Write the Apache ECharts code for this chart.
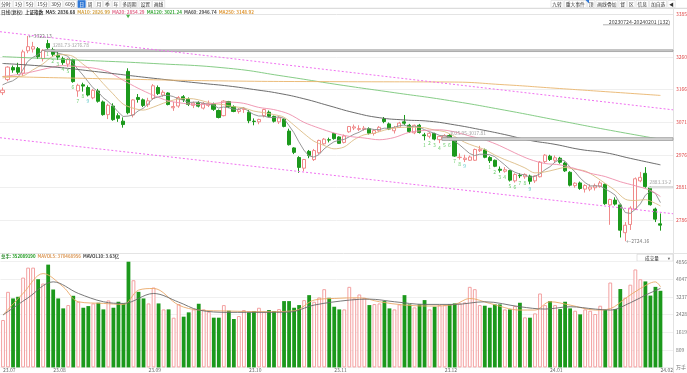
<!DOCTYPE html>
<html><head><meta charset="utf-8">
<script src="https://cdn.jsdelivr.net/npm/echarts@6/dist/echarts.min.js"></script>
<style>html,body{margin:0;padding:0;background:#fff;overflow:hidden}#c{width:687px;height:373px}</style>
</head><body><div id="c"></div>
<script>
// ---------------- data ----------------
const openP = [3157,3195,3230,3230,3214,3279,3284,3285,3256,3300,
3282,3266,3256,3240,3253,3162,3180,3172,3142,3162,
3130,3093,3118,3090,3074,3219,3092,3143,3136,3122,
3140,3172,3150,3156,3113,3118,3145,3138,3120,3128,
3112,3120,3124,3105,3090,3131,3116,3102,3108,3100,
3074,3072,3090,3100,3088,3072,3080,3045,2996,2968,
2937,2986,2962,2982,3008,3020,3038,3028,3012,3043,
3054,3050,3050,3052,3038,3046,3080,3066,3046,3056,
3072,3062,3040,3062,3034,3030,3038,3020,3026,3032,
3018,2968,2962,2960,2960,2988,2990,2968,2960,2934,
2928,2930,2900,2916,2912,2914,2900,2912,2956,2972,
2960,2966,2952,2925,2886,2894,2876,2876,2880,2884,
2890,2830,2844,2830,2749,2773,2818,2900,2922,2880,
2818,2775];
const highP = [3172,3234,3236,3244,3282,3322.13,3305,3290,3284,3311,
3288,3276,3262,3258,3256,3183,3186,3178,3168,3168,
3134,3125,3126,3097,3085,3228,3138,3153,3140,3142,
3182,3178,3164,3158,3130,3147,3150,3143,3131,3132,
3130,3134,3128,3108,3135,3133,3120,3112,3114,3106,
3082,3081,3110,3105,3090,3088,3082,3052,2998,2972,
2964,2990,2993,3020,3025,3026,3040,3030,3035,3060,
3064,3062,3060,3056,3050,3060,3086,3070,3060,3072,
3092,3066,3064,3066,3040,3042,3040,3032,3036,3036,
3022,2980,2976,2974,2994,3002,2994,2972,2962,2942,
2940,2932,2922,2922,2922,2918,2916,2958,2978,2976,
2974,2970,2956,2928,2896,2898,2890,2890,2892,2900,
2892,2848,2852,2834,2780,2826,2910,2926,2940,2885,
2822,2805];
const lowP = [3150,3190,3215,3210,3206,3272,3274,3255,3248,3282,
3262,3252,3238,3232,3186,3145,3160,3146,3138,3128,
3090,3080,3075,3072,3055,3094,3085,3128,3115,3115,
3136,3150,3145,3120,3104,3113,3130,3118,3112,3114,
3108,3115,3104,3082,3088,3112,3100,3096,3098,3068,
3062,3065,3085,3085,3070,3066,3056,3003,2978,2923.51,
2928,2966,2958,2978,3005,3012,3020,3008,3009,3040,
3048,3045,3046,3035,3032,3042,3068,3048,3038,3054,
3062,3040,3036,3038,3018,3024,3018,3010,3018,3018,
2970,2962,2955,2958,2958,2984,2966,2952,2940,2924,
2924,2898,2895,2908,2906,2890,2894,2910,2952,2958,
2952,2950,2926,2884,2880,2874,2866,2870,2872,2880,
2830,2772,2828,2735,2724.16,2757,2815,2896,2880,2828,
2780,2755];
const closeP = [3164.29,3231.52,3223.03,3216.67,3275.93,3291.04,3290.95,3261.69,3280.46,3288.08,
3268.83,3260.62,3244.49,3254.56,3189.25,3178.43,3176.18,3150.13,3163.74,3131.95,
3092.98,3120.34,3078.40,3082.24,3064.07,3098.64,3135.89,3137.14,3119.88,3133.25,
3177.06,3154.37,3158.08,3122.35,3116.72,3142.85,3137.06,3122.64,3126.55,3117.74,
3125.93,3124.25,3108.57,3084.70,3132.43,3115.61,3102.27,3107.32,3110.48,3075.24,
3072.83,3078.96,3107.90,3088.10,3073.81,3083.50,3058.71,3005.39,2983.06,2939.29,
2962.24,2974.14,2988.30,3017.78,3021.55,3018.77,3023.08,3009.41,3030.80,3058.41,
3057.27,3052.37,3053.28,3038.97,3046.53,3056.07,3072.83,3050.93,3054.37,3068.32,
3067.93,3043.61,3061.86,3040.97,3031.70,3038.55,3021.69,3029.67,3031.64,3022.91,
2972.30,2968.93,2966.21,2969.56,2991.44,2991.87,2968.76,2958.99,2942.56,2930.80,
2932.39,2902.11,2918.71,2914.78,2918.81,2898.87,2914.61,2954.70,2974.93,2962.28,
2967.25,2954.35,2929.18,2887.54,2893.25,2877.70,2886.65,2881.98,2886.29,2893.99,
2833.62,2845.78,2832.28,2756.34,2770.74,2820.77,2906.11,2910.22,2883.36,2830.53,
2788.55,2770.98];
const volume = [2178,3472,3168,3244,4127,4584,4584,4051,3853,4721,
3579,3168,2711,2863,3290,3016,2741,2817,2939,2970,
2665,3077,2741,3016,2939,4856,4005,3472,3168,2939,
3670,2939,2665,2665,2284,2909,2330,2528,2665,2924,
2665,2558,2284,2284,2863,2604,2224,2361,2635,2528,
2589,2741,2559,2635,2589,2680,3046,3046,2741,2863,
3092,3320,3016,3214,3594,3198,2787,2665,2665,3701,
3168,3351,3198,2863,2909,2939,3046,2711,2665,2894,
3320,2894,2757,2894,3092,2665,2787,2863,2863,2894,
2939,2939,2985,3701,3594,2863,2833,2741,2894,2894,
2665,2665,2818,2970,2300,2284,2482,3396,2863,3046,
2863,2680,3016,2711,2604,2437,2665,2604,2452,2833,
2635,3899,2680,3600,3200,3800,4500,4050,3950,3300,
3700,3520];

const ma5 = [3179.64,3186.38,3191.22,3200.65,3222.29,3247.64,3259.52,3267.26,3280.01,3282.44,
3278.00,3271.94,3268.50,3263.32,3243.55,3225.47,3208.58,3189.71,3171.55,3160.09,
3143.00,3131.83,3117.48,3101.18,3087.61,3088.74,3091.85,3103.60,3111.12,3124.96,
3140.64,3144.34,3148.53,3149.02,3145.72,3138.87,3135.41,3128.32,3129.16,3129.37,
3125.98,3123.42,3120.61,3112.24,3115.18,3113.11,3108.72,3108.47,3113.62,3102.18,
3093.63,3088.97,3089.08,3084.61,3084.32,3086.45,3082.40,3061.90,3040.89,3013.99,
2989.74,2972.82,2969.41,2976.35,2992.80,3004.11,3013.90,3018.12,3020.72,3028.09,
3035.79,3041.65,3050.43,3052.06,3049.68,3049.44,3053.54,3053.07,3056.15,3060.50,
3062.88,3057.03,3059.22,3056.54,3049.21,3043.34,3038.95,3032.52,3030.65,3028.89,
3015.64,3005.09,2992.40,2979.98,2973.69,2977.60,2977.57,2976.12,2970.72,2958.60,
2946.70,2933.37,2925.31,2919.76,2917.36,2910.66,2913.16,2920.35,2932.38,2941.08,
2954.75,2962.70,2957.60,2940.12,2926.31,2908.40,2894.86,2885.42,2885.17,2885.32,
2876.51,2868.33,2858.39,2832.40,2807.75,2805.18,2817.25,2832.84,2858.24,2870.20,
2863.75,2836.68];
const ma10 = [[0,3200.00],[2,3203.66],[4,3205.50],[6,3222.95],[8,3240.33],[10,3262.82],[12,3267.88],[14,3263.00],[16,3240.26],[18,3217.43],
[20,3184.23],[22,3153.60],[24,3123.85],[26,3111.84],[28,3106.15],[30,3114.69],[32,3126.06],[34,3135.34],[36,3139.88],[38,3139.09],
[40,3132.43],[42,3124.47],[44,3122.27],[46,3116.07],[48,3112.93],[50,3103.37],[52,3098.77],[54,3093.25],[56,3085.69],[58,3062.75],
[60,3038.10],[62,3015.65],[64,3003.40],[66,2993.36],[68,2998.54],[70,3019.95],[72,3034.27],[74,3038.89],[76,3047.59],[78,3054.10],
[80,3056.16],[82,3056.14],[84,3054.86],[86,3047.99],[88,3043.59],[90,3029.49],[92,3012.46],[94,3001.29],[96,2991.33],[98,2975.35],
[100,2962.15],[102,2950.72],[104,2937.98],[106,2923.26],[108,2926.07],[110,2932.71],[112,2938.98],[114,2933.70],[116,2928.78],[118,2912.65],
[120,2892.46],[122,2871.91],[124,2846.54],[126,2842.79],[128,2845.32],[130,2834.47],[131,2826.99]];
const ma20 = [[0,3204.06],[3,3209.56],[6,3217.88],[9,3228.15],[12,3235.77],[15,3232.69],[18,3228.88],[21,3217.97],[24,3193.42],[27,3169.82],
[30,3149.46],[33,3133.22],[36,3125.86],[39,3121.91],[42,3125.26],[45,3129.65],[48,3126.01],[51,3114.13],[54,3107.76],[57,3095.01],
[60,3070.73],[63,3053.87],[66,3039.52],[69,3029.80],[72,3024.96],[75,3019.77],[78,3026.32],[81,3041.53],[84,3046.87],[87,3048.81],
[90,3042.83],[93,3030.83],[96,3019.66],[99,3002.60],[102,2981.59],[105,2962.65],[108,2950.71],[111,2946.70],[114,2935.84],[117,2922.17],
[120,2912.58],[123,2897.52],[126,2885.79],[129,2872.40],[131,2854.29]];
const ma60 = [[0,3242],[10,3232],[20,3216],[30,3199],[40,3183.7],[45,3176.4],[50,3166.3],[55,3155.1],[60,3139.3],[65,3119.0],
[70,3098.8],[75,3084.1],[80,3077.5],[85,3073.7],[90,3063.3],[95,3049.8],[100,3034.9],[105,3018.0],[110,3006.4],[115,2991.6],
[120,2982.2],[125,2965.6],[131,2946.74]];
const ma120 = [[0,3262],[15,3252],[30,3242],[45,3228],[56,3205],[67,3180],[78,3157],[89,3134],[100,3106],[110,3078],[120,3050],[131,3021.24]];
const ma250 = [[0,3204],[22,3197],[45,3191],[67,3189],[89,3188],[100,3180],[110,3170],[120,3160],[131,3148.92]];

const mavol5 = [[0,2406],[4,3400],[8,4310],[12,3700],[15,3016],[20,2940],[24,2894],[27,3550],[30,3625],[35,2863],[39,2635],[45,2589],
[52,2559],[58,2600],[62,3092],[66,3168],[71,3198],[75,3016],[80,2863],[85,2820],[90,2894],[93,3168],[97,2939],[103,2635],[106,2635],
[109,3016],[113,2863],[118,2635],[121,2700],[124,3168],[127,3625],[130,3929],[131,3705]];
const mavol10 = [[0,2406],[5,3200],[10,3930],[15,3400],[20,3016],[24,2939],[30,3396],[35,3000],[39,2635],[45,2528],[52,2528],[57,2540],
[62,2863],[69,3092],[73,3137],[78,3016],[84,2894],[90,2894],[96,3016],[103,2787],[108,2680],[113,2787],[118,2680],[121,2635],[125,2970],
[128,3320],[131,3630]];

// axes / ticks
const priceMin = 2689, priceMax = 3385;
const priceTicks = [2786, 2881, 2976, 3071, 3166, 3260];
const priceTickLabels = ['2786','2881','2976','3071','3166','3260'];
const priceMaxLabel = '3385';
const volMax = 4856;
const volTicks = [0, 809.33, 1618.67, 2428, 3237.33, 4046.67, 4856];
const volTickLabels = ['万手','809','1619','2428','3237','4047','4856'];
const dateTickIdx = [0, 10, 29, 49, 66, 88, 109, 131];
const dateTickText = ['23.07','23.08','23.09','23.10','23.11','23.12','24.01','24.02'];

// annotations (drawn lines / boxes, in data units)
const chanUpper = [[-0.5, 3334.6], [133.5, 3107.0]];
const chanLower = [[-0.5, 3025.7], [133.5, 2804.3]];
const bandStart = [8.46, 87.5, 128.7];
const bandTop = [3281.73, 3025.95, 2883.33];
const bandBot = [3276.78, 3017.81, 2879.50];
const nineIdx = [9,10,11,12,13,14,15,16,17, 84,85,86,87,88,89,90,91,92, 97,98,99,100,101,102,103,104,105];
const nineNum = [1,2,3,4,5,6,7,8,9, 1,2,3,4,5,6,7,8,9, 1,2,3,4,5,6,7,8,9];
const eventIdx = [25];

// ---------------- chart ----------------
const FONT = '"Noto Sans CJK SC","Noto Sans","DejaVu Sans",sans-serif';
const UP = '#f08a8a', DN = '#1c991c';
const N = closeP.length, SLOTS = N + 2;
const cats = Array.from({length: SLOTS}, (_, i) => String(i));
const candleData = closeP.map((c, i) => [openP[i], c, lowP[i], highP[i]]);
const isUp = closeP.map((c, i) => c >= openP[i]);
const volData = volume.map((v, i) => ({value: v, itemStyle: isUp[i]
  ? {color: '#fff', borderColor: '#f3a0a0', borderWidth: 1}
  : {color: DN, borderColor: DN, borderWidth: 0}}));
let hiI = 0, loI = 0;
highP.forEach((h, i) => { if (h > highP[hiI]) hiI = i; });
lowP.forEach((l, i) => { if (l < lowP[loI]) loI = i; });

function tw(s, f) { let w = 0; for (const ch of s) w += /[\x00-\x7f]/.test(ch) ? f * 0.56 : f; return w; }
function buttons(list, x0, sel) {
  const els = []; let x = x0; const f = 4.8;
  for (const s of list) {
    const w = tw(s, f) + 2.6, on = s === sel;
    els.push({type: 'rect', shape: {x: x, y: 0.5, width: w, height: 7}, style: {fill: on ? '#2f78d6' : '#fff', stroke: on ? '#2f78d6' : '#d9d9d9', lineWidth: 0.6}, silent: true});
    els.push({type: 'text', x: x + w / 2, y: 4.2, style: {text: s, fill: on ? '#fff' : '#333', fontSize: f, fontFamily: FONT, align: 'center', verticalAlign: 'middle', textAlign: 'center', textVerticalAlign: 'middle'}, silent: true});
    x += w + 1.2;
  }
  return els;
}
const graphics = [].concat(
  [{type: 'line', shape: {x1: 0, y1: 8.4, x2: 687, y2: 8.4}, style: {stroke: '#dcdcdc', lineWidth: 1.2}, silent: true}],
  buttons(['分时','1分','5分','15分','30分','60分','日','周','月','季','年','多周期','设置','画线'], 0, '日'),
  buttons(['九转','重大事件','顶','画线叠加','督','区','信息','加自选','◀'], 551, null),
  [
    {type: 'polygon', shape: {points: [[585.5, 0], [589, 0], [589, 3.5]]}, style: {fill: '#2f78d6'}, silent: true},
    {type: 'line', shape: {x1: 673.5, y1: 8.4, x2: 673.5, y2: 373}, style: {stroke: '#e2e2e2', lineWidth: 1}, silent: true},
    {type: 'line', shape: {x1: 0, y1: 253.5, x2: 687, y2: 253.5}, style: {stroke: '#e4e4e4', lineWidth: 1}, silent: true},
    {type: 'line', shape: {x1: 603, y1: 24.8, x2: 670, y2: 24.8}, style: {stroke: '#666', lineWidth: 0.5}, silent: true},
    {type: 'rect', shape: {x: 637, y: 254.2, width: 36, height: 7}, style: {fill: '#fff', stroke: '#d0d0d0', lineWidth: 0.6}, silent: true},
    {type: 'text', x: 652, y: 257.8, style: {text: '成交量', fill: '#333', fontSize: 4.6, fontFamily: FONT, align: 'center', verticalAlign: 'middle', textAlign: 'center', textVerticalAlign: 'middle'}, silent: true},
    {type: 'text', x: 669, y: 257.8, style: {text: '▾', fill: '#666', fontSize: 4.6, fontFamily: FONT, align: 'center', verticalAlign: 'middle', textAlign: 'center', textVerticalAlign: 'middle'}, silent: true}
  ]
);

const option = {
  animation: false,
  backgroundColor: '#fff',
  textStyle: {fontFamily: FONT},
  title: [
    {left: 1, top: 9.3, padding: 0, text: '{g|日线(复权)}  {k|上证指数}  {k|MA5: 2836.68}  {a|MA10: 2826.99}  {p|MA20: 2854.29}  {n|MA120: 3021.24}  {d|MA60: 2946.74}  {o|MA250: 3148.92}',
      textStyle: {fontSize: 4.6, lineHeight: 5, rich: {
        g: {color: '#555', fontSize: 4.6, fontFamily: FONT}, k: {color: '#333', fontSize: 4.6, fontFamily: FONT},
        a: {color: '#d3a142', fontSize: 4.6}, p: {color: '#e26b8c', fontSize: 4.6}, n: {color: '#3aa83a', fontSize: 4.6},
        d: {color: '#555', fontSize: 4.6}, o: {color: '#e09a3a', fontSize: 4.6}}}},
    {right: 17, top: 19.5, padding: 0, text: '20230724-20240201 (132)', textStyle: {fontSize: 5.2, lineHeight: 5.4, color: '#444', fontWeight: 'normal', fontFamily: FONT}},
    {left: 1, top: 254.3, padding: 0, text: '{k|总手: }{g|352089190}  {o|MAVOL5: 370468956}  {d|MAVOL10: 3.63亿}',
      textStyle: {fontSize: 4.4, lineHeight: 5, rich: {
        k: {color: '#2a8a2a', fontSize: 4.4, fontFamily: FONT}, g: {color: '#1c991c', fontSize: 4.4},
        o: {color: '#dc9a5a', fontSize: 4.4}, d: {color: '#444', fontSize: 4.4, fontFamily: FONT}}}}
  ],
  graphic: {elements: graphics},
  grid: [
    {left: 0, top: 14.4, width: 673, height: 238.9},
    {left: 0, top: 261.7, width: 673, height: 106}
  ],
  xAxis: [
    {type: 'category', gridIndex: 0, data: cats, boundaryGap: true, show: false},
    {type: 'value', gridIndex: 0, min: -0.5, max: SLOTS - 0.5, show: false},
    {type: 'category', gridIndex: 1, data: cats, boundaryGap: true,
      axisLine: {show: false}, axisTick: {show: false}, splitLine: {show: false},
      axisLabel: {show: true, fontSize: 5, color: '#666', margin: 0.6, align: 'left', hideOverlap: false,
        interval: (idx) => dateTickIdx.indexOf(idx) >= 0,
        formatter: (val, idx) => { const k = dateTickIdx.indexOf(idx); return k >= 0 ? dateTickText[k] : ''; }}},
    {type: 'value', gridIndex: 1, min: -0.5, max: SLOTS - 0.5, show: false}
  ],
  yAxis: [
    {type: 'value', gridIndex: 0, min: priceMin, max: priceMax, show: false},
    {type: 'value', gridIndex: 1, min: 0, max: volMax, show: false}
  ],
  series: [
    {type: 'candlestick', xAxisIndex: 0, yAxisIndex: 0, data: candleData, barWidth: 3.6, z: 3,
      itemStyle: {color: '#fff', color0: DN, borderColor: UP, borderColor0: DN, borderWidth: 1},
      markLine: {silent: true, symbol: ['none', 'none'], animation: false, z: 1,
        lineStyle: {color: '#efefef', width: 1, type: 'solid'},
        label: {position: 'end', distance: 3, color: '#e04a4a', fontSize: 5, formatter: p => p.name},
        data: priceTicks.map((v, i) => ({yAxis: v, name: priceTickLabels[i]}))
          .concat([{yAxis: priceMax, name: priceMaxLabel, lineStyle: {color: '#e4e4e4'}}])}},
    {type: 'line', name: 'MA5', xAxisIndex: 0, yAxisIndex: 0, data: ma5, symbol: 'none', z: 4, lineStyle: {color: '#8c8c8c', width: 0.9}},
    {type: 'line', name: 'MA10', xAxisIndex: 1, yAxisIndex: 0, data: ma10, symbol: 'none', smooth: 0.3, z: 4, lineStyle: {color: '#dcbc86', width: 0.9}},
    {type: 'line', name: 'MA20', xAxisIndex: 1, yAxisIndex: 0, data: ma20, symbol: 'none', smooth: 0.3, z: 4, lineStyle: {color: '#ee8fac', width: 0.9}},
    {type: 'line', name: 'MA60', xAxisIndex: 1, yAxisIndex: 0, data: ma60, symbol: 'none', smooth: true, z: 4, lineStyle: {color: '#5c5c5c', width: 0.9}},
    {type: 'line', name: 'MA120', xAxisIndex: 1, yAxisIndex: 0, data: ma120, symbol: 'none', smooth: true, z: 4, lineStyle: {color: '#78c678', width: 0.9}},
    {type: 'line', name: 'MA250', xAxisIndex: 1, yAxisIndex: 0, data: ma250, symbol: 'none', smooth: true, z: 4, lineStyle: {color: '#e9b46c', width: 0.9}},
    {type: 'line', xAxisIndex: 1, yAxisIndex: 0, data: chanUpper, symbol: 'none', z: 5, lineStyle: {color: '#f070f0', width: 1, type: [2, 2]},
      markArea: {silent: true, z: 5,
        data: bandStart.map((s, k) => [
          {coord: [s, bandTop[k]], name: bandTop[k].toFixed(2) + '-' + bandBot[k].toFixed(2),
            itemStyle: k === 2 ? {color: '#ececec', borderColor: '#d0d0d0', borderWidth: 0.8} : {color: '#d4d4d4', borderColor: '#9a9a9a', borderWidth: 0.8},
            label: k === 2 ? {position: [1, -6.5], width: 24, overflow: 'truncate', ellipsis: ''} : {position: [8, -6.5]}},
          {coord: [SLOTS - 0.5, bandBot[k]]}]),
        label: {show: true, fontSize: 4.8, color: '#a0a0a0', fontFamily: FONT}}},
    {type: 'line', xAxisIndex: 1, yAxisIndex: 0, data: chanLower, symbol: 'none', z: 5, lineStyle: {color: '#f070f0', width: 1, type: [2, 2]}},
    {type: 'scatter', xAxisIndex: 1, yAxisIndex: 0, symbol: 'circle', symbolSize: 1, z: 6,
      itemStyle: {color: 'rgba(0,0,0,0)'},
      data: nineIdx.map((i, k) => ({value: [i, lowP[i], nineNum[k]],
        label: {color: nineNum[k] === 9 ? '#2fb9b9' : '#46c046'}})),
      label: {show: true, position: 'bottom', distance: 1.5, fontSize: 5, formatter: p => String(p.value[2])}},
    {type: 'scatter', xAxisIndex: 1, yAxisIndex: 0, symbol: 'circle', symbolSize: 1, z: 6,
      itemStyle: {color: 'rgba(0,0,0,0)'},
      data: [[hiI, highP[hiI]], [loI, lowP[loI]]],
      label: {show: true, position: 'right', distance: 0.5, fontSize: 5, color: '#555', formatter: p => '←' + p.value[1].toFixed(2)}},
    {type: 'scatter', xAxisIndex: 1, yAxisIndex: 0, symbol: 'triangle', symbolRotate: 180, symbolSize: [4, 3.5], z: 6,
      itemStyle: {color: '#22a022'}, data: eventIdx.map(i => [i, priceMax - 6])},
    {type: 'bar', xAxisIndex: 2, yAxisIndex: 1, data: volData, barWidth: 3.8, z: 3,
      markLine: {silent: true, symbol: ['none', 'none'], animation: false, z: 1,
        lineStyle: {color: '#f0f0f0', width: 1, type: 'solid'},
        label: {position: 'end', distance: 3, color: '#777', fontSize: 5, formatter: p => p.name},
        data: volTicks.map((v, i) => ({yAxis: v, name: volTickLabels[i]}))}},
    {type: 'line', xAxisIndex: 3, yAxisIndex: 1, data: mavol5, symbol: 'none', smooth: 0.35, z: 4, lineStyle: {color: '#eaa868', width: 0.9}},
    {type: 'line', xAxisIndex: 3, yAxisIndex: 1, data: mavol10, symbol: 'none', smooth: 0.35, z: 4, lineStyle: {color: '#6a6a6a', width: 0.9}}
  ]
};
const chart = echarts.init(document.getElementById('c'), null, {renderer: 'canvas'});
chart.setOption(option);
</script>
</body></html>
